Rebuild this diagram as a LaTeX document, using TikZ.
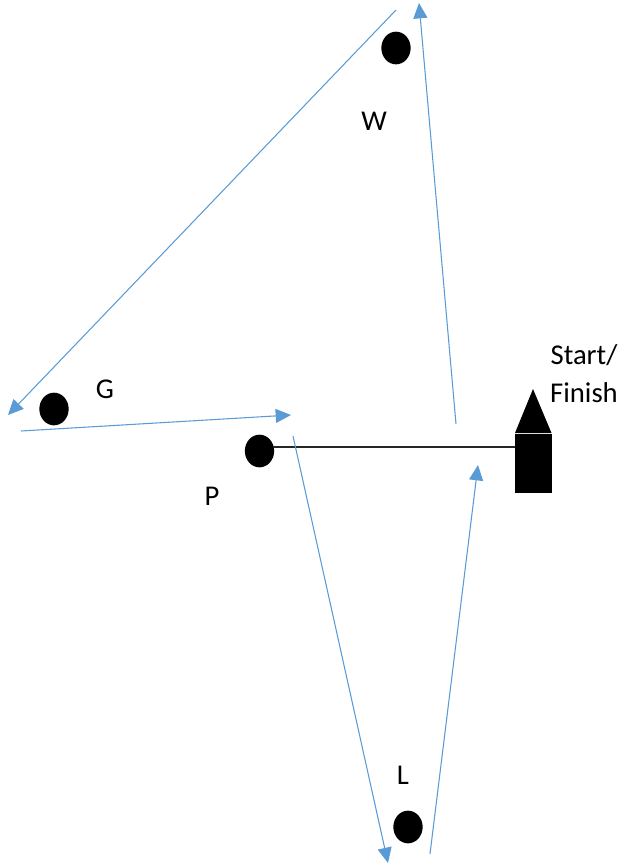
\documentclass[tikz,border=0pt]{standalone}
\usepackage{fontspec}
\setmainfont{Carlito}
\usetikzlibrary{arrows.meta,shapes.geometric}
\definecolor{legblue}{RGB}{91,155,213}
\tikzset{
 leg/.style={draw=legblue,line width=0.8pt,-{Triangle[length=11.5pt,width=10.5pt]}},
 buoy/.style={ellipse,fill=black,inner sep=0pt,minimum width=22pt,minimum height=24.5pt},
 lab/.style={font=\fontsize{21.5pt}{28.5pt}\selectfont,inner sep=0pt,align=center}
}
\begin{document}
\begin{tikzpicture}[x=0.75pt,y=-0.75pt]
 \useasboundingbox (0,0) rectangle (623,865);
 \coordinate (boat) at (515,447);
 \node [buoy] (P) at (259.5,451) {};
 \draw [line width=0.85pt,black!85,shorten <=-1pt] (P.east |- boat) -- (boat);
 \node [buoy] (W) at (396,48) {};
 \node [buoy] (G) at (54,409) {};
 \node [buoy] (L) at (408,827) {};
 \node [lab] (labW) at (374,121) {W};
 \node [lab] (labG) at (105,389) {G};
 \node [lab] (labP) at (212,496) {P};
 \node [lab] (labL) at (403,775) {L};
 \node [lab] (labS) at (584,374) {Start/\\Finish};
 \fill (515,433.5) rectangle (551.5,493);
 \fill (515,433) -- (533,389) -- (551.5,433) -- cycle;
 \coordinate (a1) at (456,424); \coordinate (a2) at (419,3);
 \coordinate (b1) at (396,10); \coordinate (b2) at (8,415);
 \coordinate (c1) at (21,431); \coordinate (c2) at (291,415);
 \coordinate (d1) at (293,436); \coordinate (d2) at (388,863);
 \coordinate (e1) at (430,854); \coordinate (e2) at (478,465);
 \draw [leg] (a1) -- (a2);
 \draw [leg] (b1) -- (b2);
 \draw [leg] (c1) -- (c2);
 \draw [leg] (d1) -- (d2);
 \draw [leg] (e1) -- (e2);
\end{tikzpicture}
\end{document}
